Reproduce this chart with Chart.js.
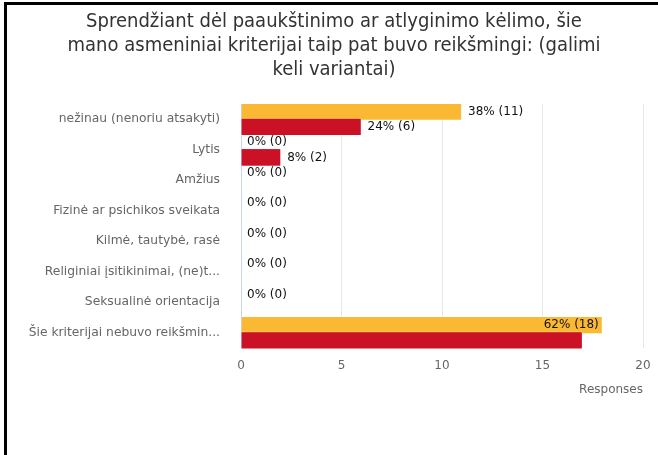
<!DOCTYPE html>
<html>
<head>
<meta charset="utf-8">
<script src="https://cdn.jsdelivr.net/npm/chart.js@4.4.0/dist/chart.umd.min.js"></script>
<style>
  html, body { margin: 0; padding: 0; background: #fff; }
  #wrap { position: relative; width: 658px; height: 455px; }
  #frame {
    position: absolute; left: 4px; top: 2px; right: 0; bottom: 0;
    border-left: 3px solid #000; border-top: 3px solid #000;
    pointer-events: none;
  }
</style>
</head>
<body>
<div id="wrap">
  <canvas id="chart" width="658" height="455" style="width:658px;height:455px"></canvas>
  <div id="frame"></div>
</div>
<script>
const titleLines = [
  "Sprendžiant dėl paaukštinimo ar atlyginimo kėlimo, šie",
  "mano asmeniniai kriterijai taip pat buvo reikšmingi: (galimi",
  "keli variantai)"
];
const categories = [
  "nežinau (nenoriu atsakyti)",
  "Lytis",
  "Amžius",
  "Fizinė ar psichikos sveikata",
  "Kilmė, tautybė, rasė",
  "Religiniai įsitikinimai, (ne)t...",
  "Seksualinė orientacija",
  "Šie kriterijai nebuvo reikšmin..."
];
const countsOrange = [11, 0, 0, 0, 0, 0, 0, 18];
const countsRed = [6, 2, 0, 0, 0, 0, 0, 17];
const labelsOrange = ["38% (11)", "0% (0)", "0% (0)", "0% (0)", "0% (0)", "0% (0)", "0% (0)", "62% (18)"];
const labelsRed = ["24% (6)", "8% (2)", null, null, null, null, null, null];
const xTicks = [0, 5, 10, 15, 20];

const titleFont = "'DejaVu Sans Condensed', 'Liberation Sans', sans-serif";
const axisFont = "'DejaVu Sans', sans-serif";

// red bars sit over the orange ones in the original, then the value texts
const valueLabels = {
  id: "valueLabels",
  afterDatasetsDraw(chart) {
    const ctx = chart.ctx;
    const area = chart.chartArea;
    chart.getDatasetMeta(1).data.forEach((bar) => bar.draw(ctx, area));
    ctx.save();
    ctx.font = "12px 'DejaVu Sans'";
    ctx.fillStyle = "#111";
    ctx.textBaseline = "middle";
    chart.data.datasets.forEach((ds, i) => {
      chart.getDatasetMeta(i).data.forEach((bar, j) => {
        const text = ds.valueLabels[j];
        if (!text) return;
        const w = ctx.measureText(text).width;
        let x = bar.x + 6;
        ctx.textAlign = "left";
        if (x + w > area.right) {
          x = bar.x - 4;
          ctx.textAlign = "right";
        }
        ctx.fillText(text, x, bar.y);
      });
    });
    ctx.restore();
  }
};

new Chart(document.getElementById("chart").getContext("2d"), {
  type: "bar",
  data: {
    labels: categories,
    datasets: [
      {
        data: countsOrange,
        valueLabels: labelsOrange,
        backgroundColor: "#fbb933",
        borderColor: "rgba(255,255,255,0.35)",
        borderWidth: 1,
        categoryPercentage: 1,
        barPercentage: 1.2
      },
      {
        data: countsRed,
        valueLabels: labelsRed,
        backgroundColor: "#cb1126",
        borderColor: "rgba(255,255,255,0.35)",
        borderWidth: 1,
        categoryPercentage: 1,
        barPercentage: 1.2
      }
    ]
  },
  options: {
    indexAxis: "y",
    responsive: false,
    animation: false,
    layout: { padding: { left: 25, right: 15, top: 0, bottom: 58 } },
    plugins: {
      legend: { display: false },
      tooltip: { enabled: false },
      title: {
        display: true,
        text: titleLines,
        color: "#333",
        font: { family: titleFont, size: 20, weight: "normal", lineHeight: 1.2 },
        padding: { top: 10, bottom: 22 }
      }
    },
    scales: {
      x: {
        min: 0,
        max: 20,
        afterBuildTicks: (scale) => {
          scale.ticks = xTicks.map((v) => ({ value: v }));
        },
        afterFit: (scale) => {
          scale.height = 49;
          scale.paddingRight = 4;
        },
        grid: { color: "#e6e6e6", drawTicks: false },
        border: { display: false },
        ticks: { color: "#666", padding: 11, font: { family: axisFont, size: 12 } },
        title: {
          display: true,
          text: "Responses",
          align: "end",
          color: "#666",
          padding: { top: 0, bottom: 0 },
          font: { family: axisFont, size: 12 }
        }
      },
      y: {
        afterFit: (scale) => {
          scale.width = 216;
        },
        grid: { display: false, drawTicks: false },
        border: { display: true, color: "#ccd6eb" },
        ticks: { color: "#666", padding: 21, font: { family: axisFont, size: 12.3 } }
      }
    }
  },
  plugins: [valueLabels]
});
</script>
</body>
</html>
